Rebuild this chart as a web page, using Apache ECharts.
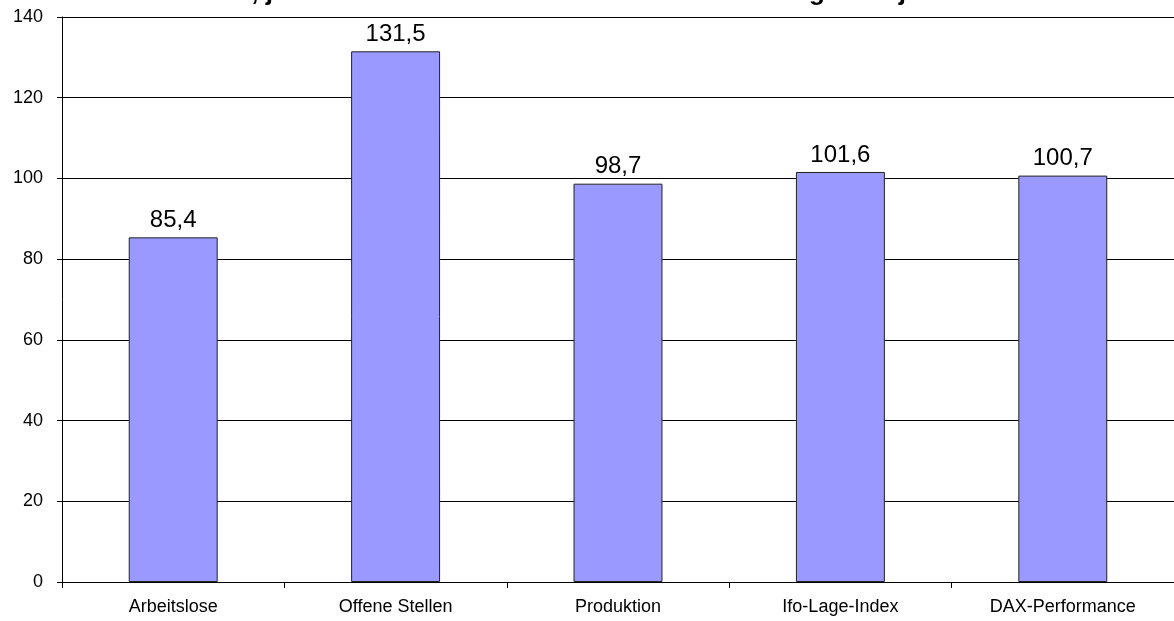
<!DOCTYPE html>
<html>
<head>
<meta charset="utf-8">
<script src="https://cdn.jsdelivr.net/npm/echarts@6/dist/echarts.min.js"></script>
<style>
  html, body { margin: 0; padding: 0; background: #fff; }
  #main { width: 1174px; height: 621px; }
</style>
</head>
<body>
<div id="main"></div>
<script>
// Kategorien und Werte (1999 = 100)
var categories = ['Arbeitslose', 'Offene Stellen', 'Produktion', 'Ifo-Lage-Index', 'DAX-Performance'];
var values = [85.4, 131.5, 98.7, 101.6, 100.7];
var yTicks = [0, 20, 40, 60, 80, 100, 120, 140];

var chart = echarts.init(document.getElementById('main'));

chart.setOption({
  animation: false,
  // Titel ist im Original oben abgeschnitten
  title: {
    text: 'Aktueller Stand, jeweils in % der Durchschnittswerte des Vergleichsjahres 1999 = 100',
    left: 'center',
    top: -25,
    textStyle: { fontFamily: 'Arial, Liberation Sans', fontSize: 26, fontWeight: 'bold', color: '#000' }
  },
  grid: { left: 62, right: 0, top: 17, bottom: 39 },
  xAxis: {
    type: 'category',
    data: categories,
    axisLine: { lineStyle: { color: '#000', width: 1 } },
    axisTick: { show: true, length: 6, lineStyle: { color: '#000' } },
    axisLabel: { color: '#000', fontFamily: 'Arial, Liberation Sans', fontSize: 18, margin: 16 }
  },
  yAxis: {
    type: 'value',
    min: yTicks[0],
    max: yTicks[yTicks.length - 1],
    interval: 20,
    axisLine: { show: true, lineStyle: { color: '#000', width: 1 } },
    axisTick: { show: true, length: 5, lineStyle: { color: '#000' } },
    axisLabel: { color: '#000', fontFamily: 'Arial, Liberation Sans', fontSize: 18, margin: 19 },
    splitLine: { show: true, lineStyle: { color: '#000', width: 1 } }
  },
  series: [{
    type: 'bar',
    data: values,
    barWidth: '40%',
    itemStyle: { color: '#9999FF', borderColor: '#222', borderWidth: 1 },
    label: {
      show: true,
      position: 'top',
      distance: 5,
      color: '#000',
      fontFamily: 'Arial, Liberation Sans',
      fontSize: 24,
      formatter: function (p) { return p.value.toFixed(1).replace('.', ','); }
    }
  }]
});
</script>
</body>
</html>
